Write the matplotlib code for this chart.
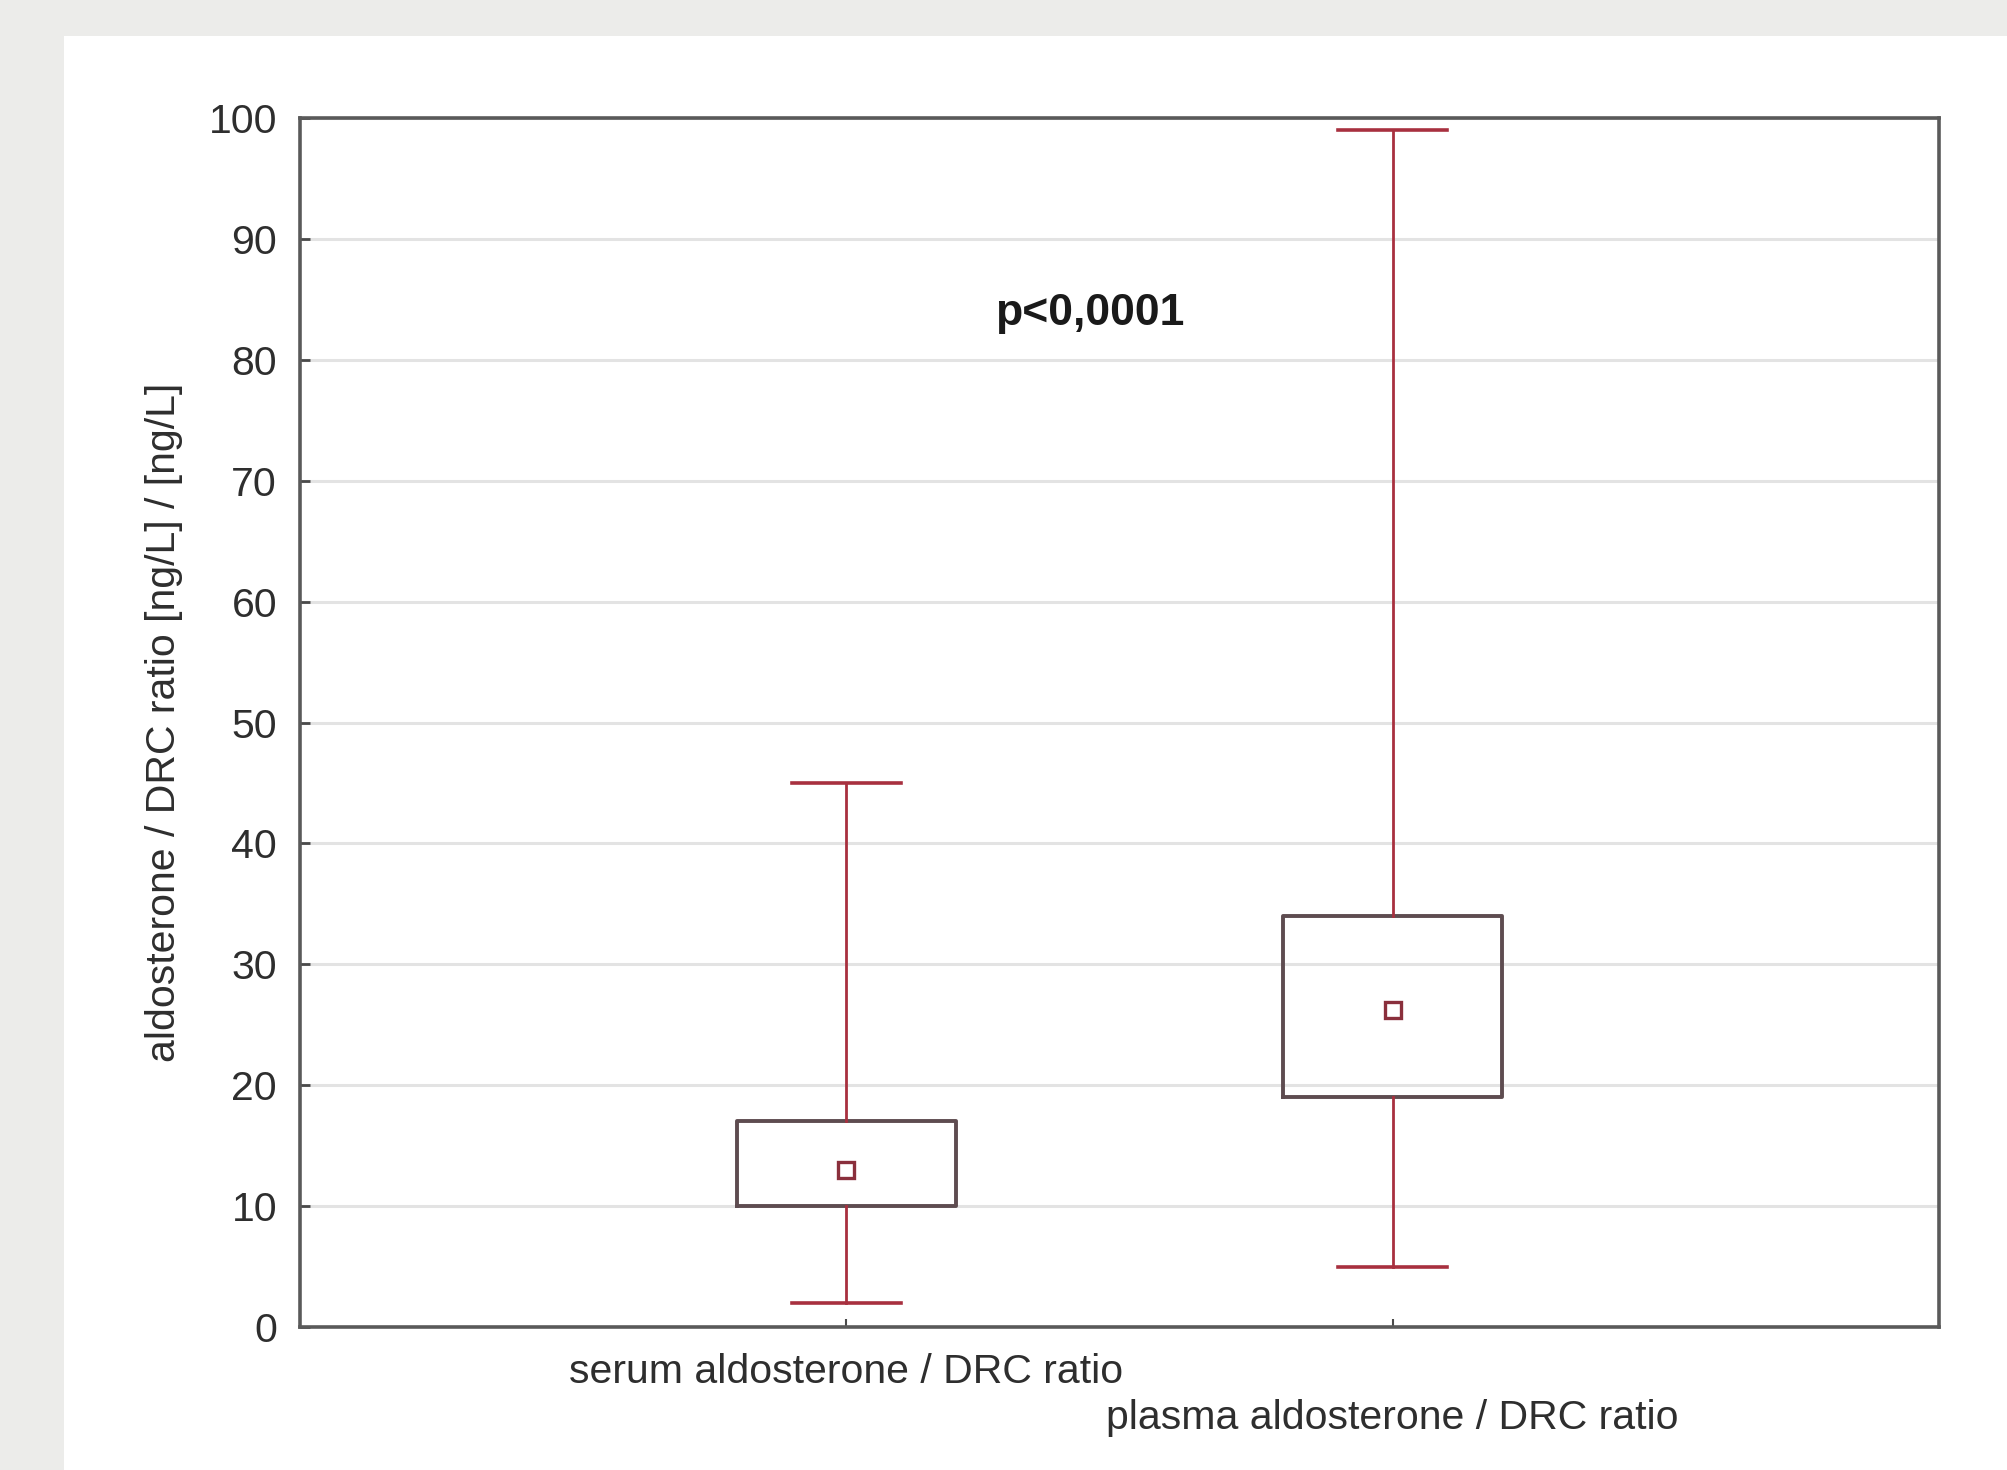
import matplotlib
matplotlib.use("Agg")
import matplotlib.pyplot as plt
from matplotlib.patches import Rectangle

# ---- data ----
categories = ["serum aldosterone / DRC ratio", "plasma aldosterone / DRC ratio"]
medians = [13.0, 26.2]
q1 = [10.0, 19.0]
q3 = [17.0, 34.0]
mins = [2.0, 5.0]
maxs = [45.0, 99.0]
y_ticks = [0, 10, 20, 30, 40, 50, 60, 70, 80, 90, 100]
annotation = "p<0,0001"
y_label = "aldosterone / DRC ratio [ng/L] / [ng/L]"

plt.rcParams['font.family'] = ['Liberation Sans', 'DejaVu Sans']

W, H, DPI = 2008, 1470, 100
fig = plt.figure(figsize=(W / DPI, H / DPI), dpi=DPI, facecolor='#ececea')
# white panel
fig.patches.append(Rectangle((64 / W, 0), 1 - 64 / W, 1 - 36 / H,
                             transform=fig.transFigure, facecolor='white',
                             edgecolor='none', zorder=-10))

ax = fig.add_axes([300 / W, 1 - 1327 / H, (1939 - 300) / W, (1327 - 118) / H])
ax.set_facecolor('white')

positions = [1, 2]
stats = []
for i in range(len(categories)):
    stats.append(dict(med=medians[i], q1=q1[i], q3=q3[i],
                      whislo=mins[i], whishi=maxs[i], label=categories[i]))

box_col = '#5e4c50'
red = '#a8303f'
ax.bxp(stats, positions=positions, widths=0.4, capwidths=0.2,
       showfliers=False, patch_artist=False,
       boxprops=dict(color=box_col, linewidth=2.8),
       whiskerprops=dict(color=red, linewidth=2.0),
       capprops=dict(color=red, linewidth=2.6),
       medianprops=dict(linewidth=0))
ax.plot(positions, medians, linestyle='none', marker='s', markersize=12,
        markerfacecolor='white', markeredgecolor='#8a2f3c', markeredgewidth=2.4,
        zorder=5)

ax.set_xlim(0, 3)
ax.set_ylim(0, 100)
ax.set_yticks(y_ticks)
ax.set_xticks(positions)
ax.set_xticklabels(categories)

ax.set_axisbelow(True)
ax.yaxis.grid(True, color='#e3e3e3', linewidth=2.2)

for s in ax.spines.values():
    s.set_color('#5a5a5a')
    s.set_linewidth(2.6)

ax.tick_params(axis='y', direction='in', length=7, width=2, color='#4a4a4a',
               labelsize=29.5, labelcolor='#2e2e2e', pad=16.5)
ax.tick_params(axis='x', direction='in', length=6, width=1.5, color='#4a4a4a',
               labelsize=29.5, labelcolor='#2e2e2e', pad=18.5)
xt = ax.xaxis.get_major_ticks()
xt[1].set_pad(52)

ax.set_ylabel(y_label, fontsize=29.5, color='#2e2e2e', va='center')
ax.yaxis.set_label_coords(-0.083, 0.5)

ax.text(1.272, 82.9, annotation, fontsize=32, fontweight='bold',
        color='#1a1a1a', ha='left', va='baseline')

fig.savefig('out.png', dpi=DPI, facecolor=fig.get_facecolor())
